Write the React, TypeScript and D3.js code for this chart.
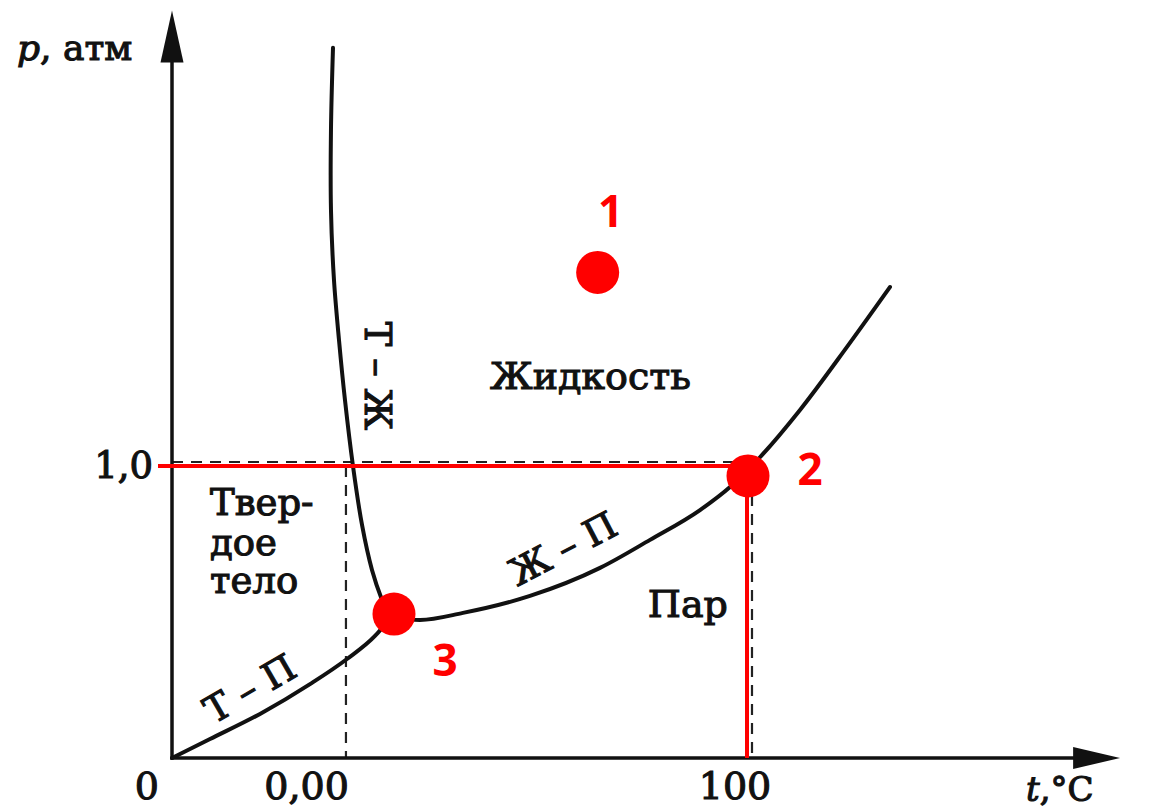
import React from "react";
import * as d3 from "d3";

// Phase diagram of water (schematic): temperature t (°C) vs pressure p (atm)

const W = 1152;
const H = 812;

// axis extents in diagram units
const T_END = 164.6;
const P_END = 2.56;

// tick values and their labels
const xTickValues = [0, 30.2, 100];
const xTickLabels = ["0", "0,00", "100"];
const yTickValues = [1];
const yTickLabels = ["1,0"];

// solid–liquid (melting) curve, from the top down to the triple point
const meltingCurve: [number, number][] = [
  [27.95, 2.432],
  [27.6, 2.151],
  [27.6, 1.877],
  [28.12, 1.637],
  [28.99, 1.432],
  [30.03, 1.226],
  [31.42, 1.0],
  [32.99, 0.798],
  [34.72, 0.644],
  [36.46, 0.541],
  [37.85, 0.479],
];

// solid–vapour (sublimation) curve
const sublimationCurve: [number, number][] = [
  [0, 0],
  [6.6, 0.065],
  [15.28, 0.151],
  [23.96, 0.253],
  [30.38, 0.339],
  [35.24, 0.418],
  [37.85, 0.479],
];

// liquid–vapour (boiling) curve
const boilingCurve: [number, number][] = [
  [37.85, 0.479],
  [43.06, 0.473],
  [50.52, 0.497],
  [62.15, 0.555],
  [74.31, 0.651],
  [82.99, 0.747],
  [91.67, 0.849],
  [96.88, 0.928],
  [102.08, 1.03],
  [109.03, 1.192],
  [117.19, 1.408],
  [124.65, 1.613],
];

// marked states
const stateIds = ["1", "2", "3"];
const stateT = [73.9, 100, 38.54];
const stateP = [1.663, 0.966, 0.493];
const stateLabelDx = [13, 62, 51];
const stateLabelDy = [-45, 9, 62];

// dashed guide lines
const meltingAtOneAtm = 30.2;
const boilingAtOneAtm = 100;
const oneAtm = 1;

const SERIF = "'DejaVu Serif', 'Liberation Serif', serif";
const SANS = "'Open Sans', 'Liberation Sans', sans-serif";
const RED = "#ff0000";
const INK = "#111";

export default function App() {
  const x = d3.scaleLinear().domain([0, 100]).range([172, 748]);
  const y = d3.scaleLinear().domain([0, 1]).range([758, 466]);

  const param = d3
    .line<[number, number]>()
    .x((d) => x(d[0]))
    .y((d) => y(d[1]))
    .curve(d3.curveCatmullRom.alpha(0.5));
  const mono = d3
    .line<[number, number]>()
    .x((d) => x(d[0]))
    .y((d) => y(d[1]))
    .curve(d3.curveMonotoneX);

  const x0 = x(0);
  const y0 = y(0);
  const xEnd = x(T_END);
  const yEnd = y(P_END);

  const textStyle: React.CSSProperties = {
    fontFamily: SERIF,
    fill: INK,
    stroke: INK,
    strokeWidth: 1.1,
  };

  return (
    <svg
      width={W}
      height={H}
      viewBox={`0 0 ${W} ${H}`}
      style={{ position: "absolute", left: 0, top: 0, background: "#fff" }}
    >
      <rect x={0} y={0} width={W} height={H} fill="#fff" />

      {/* dashed guides */}
      <g stroke="#222" strokeWidth={2.2} strokeDasharray="11 8" fill="none">
        <line x1={x0} x2={x(boilingAtOneAtm)} y1={y(oneAtm) - 4} y2={y(oneAtm) - 4} />
        <line x1={x(meltingAtOneAtm)} x2={x(meltingAtOneAtm)} y1={y(oneAtm)} y2={y0} />
        <line x1={x(boilingAtOneAtm) + 4} x2={x(boilingAtOneAtm) + 4} y1={y(stateP[1])} y2={y0} />
      </g>

      {/* phase boundaries */}
      <g fill="none" stroke={INK} strokeWidth={4} strokeLinecap="round">
        <path d={param(meltingCurve) ?? ""} />
        <path d={mono(sublimationCurve) ?? ""} />
        <path d={mono(boilingCurve) ?? ""} />
      </g>

      {/* axes */}
      <g stroke={INK} strokeWidth={3.5}>
        <line x1={x0} x2={x0} y1={y0 + 1.5} y2={yEnd + 40} />
        <line x1={x0 - 1.5} x2={xEnd - 40} y1={y0} y2={y0} />
      </g>
      <path
        d={`M${x0},${yEnd} L${x0 - 11.5},${yEnd + 52} L${x0 + 11.5},${yEnd + 52} Z`}
        fill={INK}
      />
      <path
        d={`M${xEnd},${y0} L${xEnd - 47},${y0 - 11} L${xEnd - 47},${y0 + 11} Z`}
        fill={INK}
      />

      {/* axis titles */}
      <text x={17} y={60} fontSize={36} style={textStyle}>
        <tspan fontStyle="italic">p</tspan>, атм
      </text>
      <text x={1026} y={801} fontSize={34} style={textStyle}>
        <tspan fontStyle="italic">t</tspan>,°C
      </text>

      {/* tick labels */}
      {xTickValues.map((v, i) => (
        <text
          key={`xt${i}`}
          x={x(v) + (i === 0 ? -13 : i === 1 ? 3 : -13)}
          y={799}
          fontSize={38}
          textAnchor={i === 2 ? "middle" : "end"}
          style={textStyle}
        >
          {xTickLabels[i]}
        </text>
      ))}
      {yTickValues.map((v, i) => (
        <text key={`yt${i}`} x={x0 - 19} y={y(v) + 12} fontSize={37} textAnchor="end" style={textStyle}>
          {yTickLabels[i]}
        </text>
      ))}

      {/* region labels */}
      <text x={x(55.2)} y={y(1.264)} fontSize={38} style={textStyle}>
        Жидкость
      </text>
      <text x={x(82.6)} y={y(0.483)} fontSize={38} style={textStyle}>
        Пар
      </text>
      <text x={x(6.6)} y={y(0.832)} fontSize={37} style={textStyle}>
        <tspan x={x(6.6)}>Твер-</tspan>
        <tspan x={x(6.6)} dy={40}>дое</tspan>
        <tspan x={x(6.6)} dy={38}>тело</tspan>
      </text>

      {/* boundary labels */}
      <text
        transform={`translate(377,376) rotate(90)`}
        fontSize={37}
        textAnchor="middle"
        dominantBaseline="central"
        style={textStyle}
      >
        Т – Ж
      </text>
      <text
        transform={`translate(563,549) rotate(-27.5)`}
        fontSize={37}
        textAnchor="middle"
        dominantBaseline="central"
        style={textStyle}
      >
        Ж – П
      </text>
      <text
        transform={`translate(250,689) rotate(-30)`}
        fontSize={37}
        textAnchor="middle"
        dominantBaseline="central"
        style={textStyle}
      >
        Т – П
      </text>

      {/* 1 atm / 100 °C markers */}
      <g stroke={RED} strokeWidth={4}>
        <line x1={x0 - 14} x2={x(boilingAtOneAtm)} y1={y(oneAtm)} y2={y(oneAtm)} />
        <line x1={x(boilingAtOneAtm) - 1} x2={x(boilingAtOneAtm) - 1} y1={y(stateP[1])} y2={y0} />
      </g>

      {/* marked states */}
      {stateIds.map((id, i) => (
        <g key={id}>
          <circle cx={x(stateT[i])} cy={y(stateP[i])} r={21.5} fill={RED} />
          <text
            x={x(stateT[i]) + stateLabelDx[i]}
            y={y(stateP[i]) + stateLabelDy[i]}
            fontSize={44}
            fontWeight={700}
            textAnchor="middle"
            fill={RED}
            fontFamily={SANS}
          >
            {id}
          </text>
        </g>
      ))}
    </svg>
  );
}
